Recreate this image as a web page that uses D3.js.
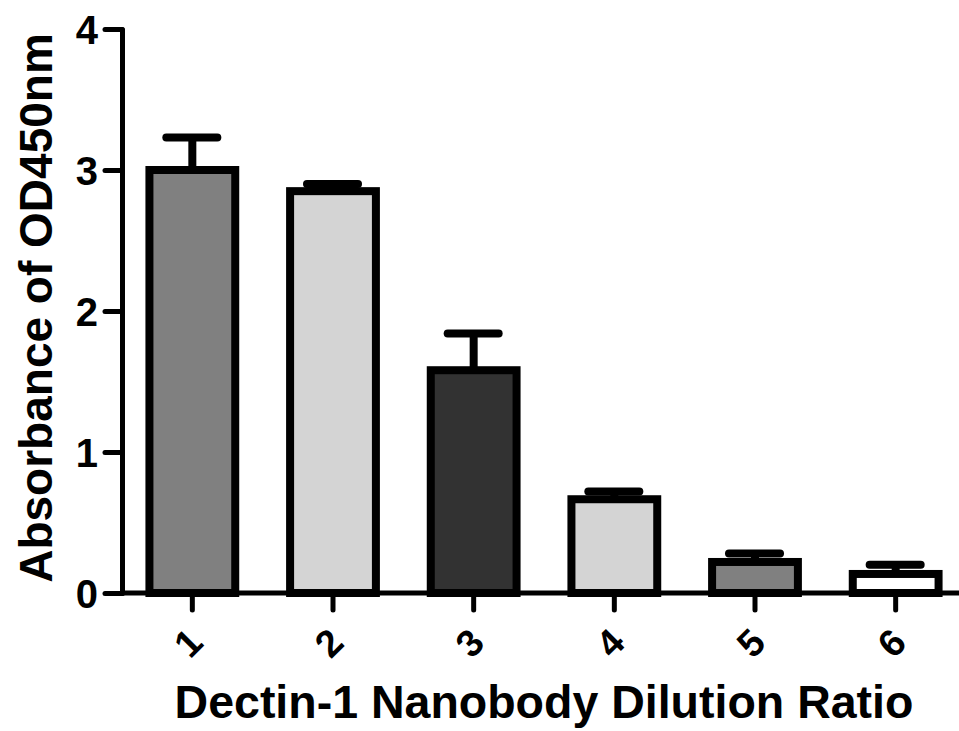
<!DOCTYPE html>
<html>
<head>
<meta charset="utf-8">
<script src="https://cdn.jsdelivr.net/npm/d3@7"></script>
<style>
  body { margin: 0; background: white; }
  svg { display: block; font-family: "Liberation Sans", Arial, sans-serif; }
</style>
</head>
<body>
<div id="chart"></div>
<script>
// Data
const groups = ["1", "2", "3", "4", "5", "6"];
const means = [3.0, 2.85, 1.58, 0.665, 0.22, 0.135];
const errors = [0.23, 0.05, 0.26, 0.055, 0.06, 0.065];
const fills = ["#808080", "#d4d4d4", "#323232", "#d4d4d4", "#808080", "#ffffff"];
const yTicks = [0, 1, 2, 3, 4];

const width = 959;
const height = 731;

const data = groups.map((g, i) => ({ g: g, v: means[i], e: errors[i], c: fills[i] }));

const svg = d3.select("#chart")
  .append("svg")
  .attr("width", width)
  .attr("height", height);

// Scales
let x = d3.scaleBand()
  .domain(groups)
  .range([122, 966])
  .paddingInner(0.39)
  .paddingOuter(0.195);

let y = d3.scaleLinear()
  .domain([0, 4])
  .range([593, 29]);

// Bars
svg.selectAll("rect.bar")
  .data(data)
  .enter().append("rect")
  .attr("class", "bar")
  .attr("x", d => x(d.g))
  .attr("y", d => y(d.v))
  .attr("width", x.bandwidth())
  .attr("height", d => y(0) - y(d.v))
  .attr("fill", d => d.c)
  .attr("stroke", "black")
  .attr("stroke-width", 8);

// Error bars (upper only)
let err = svg.selectAll("g.err")
  .data(data)
  .enter().append("g")
  .attr("class", "err");

err.append("line")
  .attr("x1", d => x(d.g) + x.bandwidth() / 2)
  .attr("x2", d => x(d.g) + x.bandwidth() / 2)
  .attr("y1", d => y(d.v))
  .attr("y2", d => y(d.v + d.e))
  .attr("stroke", "black")
  .attr("stroke-width", 8);

err.append("line")
  .attr("x1", d => x(d.g) + x.bandwidth() / 2 - 26)
  .attr("x2", d => x(d.g) + x.bandwidth() / 2 + 25)
  .attr("y1", d => y(d.v + d.e))
  .attr("y2", d => y(d.v + d.e))
  .attr("stroke", "black")
  .attr("stroke-width", 8)
  .attr("stroke-linecap", "round");

// X axis
let xAxis = d3.axisBottom(x).tickSize(17).tickSizeOuter(0).tickPadding(0);
let gx = svg.append("g")
  .attr("transform", "translate(0," + y(0) + ")")
  .call(xAxis);

gx.select(".domain")
  .attr("stroke", "black")
  .attr("stroke-width", 5)
  .attr("d", "M122,0H959");
gx.selectAll(".tick line")
  .attr("stroke", "black")
  .attr("stroke-width", 5)
  .attr("stroke-linecap", "round");
gx.selectAll(".tick text")
  .attr("y", 0)
  .attr("dy", null)
  .attr("transform", "translate(-4,50) rotate(-45)")
  .attr("dominant-baseline", "central")
  .attr("text-anchor", "middle")
  .attr("fill", "black")
  .style("font-size", "38px")
  .style("font-weight", "bold")
  .style("font-family", "'Liberation Sans', Arial, sans-serif");

// Y axis
let yAxis = d3.axisLeft(y)
  .tickValues(yTicks)
  .tickFormat(d3.format("d"))
  .tickSize(17)
  .tickSizeOuter(0)
  .tickPadding(7);
let gy = svg.append("g")
  .attr("transform", "translate(122,0)")
  .call(yAxis);

gy.select(".domain")
  .attr("stroke", "black")
  .attr("stroke-width", 5)
  .attr("stroke-linecap", "round");
gy.selectAll(".tick line")
  .attr("stroke", "black")
  .attr("stroke-width", 5)
  .attr("stroke-linecap", "round");
gy.selectAll(".tick text")
  .attr("fill", "black")
  .attr("dy", "0.36em")
  .style("font-size", "40px")
  .style("font-weight", "bold")
  .style("font-family", "'Liberation Sans', Arial, sans-serif");

// Axis titles
svg.append("text")
  .attr("x", 544)
  .attr("y", 718)
  .attr("text-anchor", "middle")
  .style("font-size", "46.5px")
  .style("font-weight", "bold")
  .text("Dectin-1 Nanobody Dilution Ratio");

svg.append("text")
  .attr("transform", "translate(52,308) rotate(-90)")
  .attr("text-anchor", "middle")
  .style("font-size", "46px")
  .style("font-weight", "bold")
  .text("Absorbance of OD450nm");
</script>
</body>
</html>
